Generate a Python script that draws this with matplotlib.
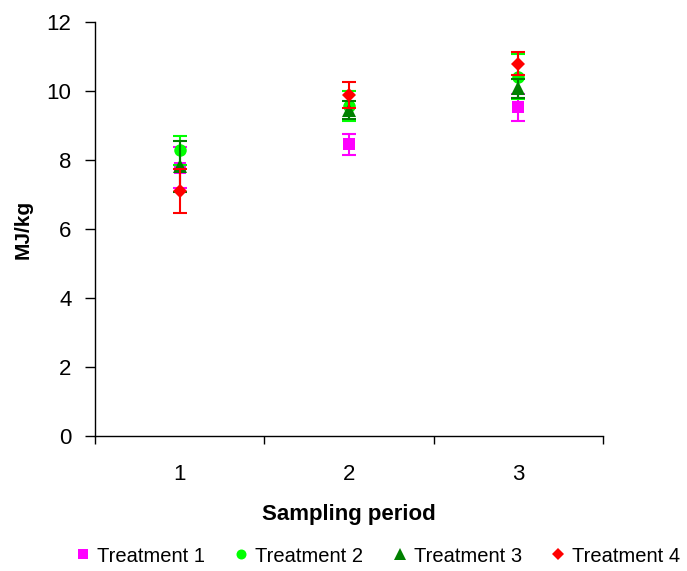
import numpy as np
import matplotlib.pyplot as plt

plt.rcParams['font.family'] = ['Liberation Sans', 'DejaVu Sans']

periods = [1, 2, 3]
treatments = ['Treatment 1', 'Treatment 2', 'Treatment 3', 'Treatment 4']
means = [
    [7.78, 8.45, 9.53],
    [8.28, 9.56, 10.42],
    [7.82, 9.45, 10.08],
    [7.10, 9.88, 10.79],
]
errors = [
    [0.60, 0.30, 0.39],
    [0.42, 0.43, 0.64],
    [0.74, 0.26, 0.27],
    [0.65, 0.38, 0.33],
]
colors = ['#FF00FF', '#00FF00', '#008000', '#FF0000']
markers = ['s', 'o', '^', 'D']
msizes = [8.5, 9, 10, 7.5]

fig = plt.figure(figsize=(6.87, 5.71), dpi=100)
ax = fig.add_axes([95 / 687, 135 / 571, 508 / 687, 414 / 571])

for i, name in enumerate(treatments):
    cont = ax.errorbar(periods, means[i], yerr=errors[i], fmt=markers[i], color=colors[i],
                       ecolor=colors[i], elinewidth=1.5, capsize=5, capthick=1.5,
                       markersize=msizes[i], label=name, zorder=2 + i)
    cont[0].set_markeredgewidth(0)

ax.set_xlim(0.5, 3.5)
ax.set_ylim(0, 12)
ax.set_yticks(np.arange(0, 13, 2))
ax.set_xticks([0.5, 1.5, 2.5, 3.5])
ax.set_xticklabels([])
ax.set_xticks(periods, minor=True)
ax.set_xticklabels([str(p) for p in periods], minor=True)
ax.tick_params(axis='x', which='minor', length=0, labelsize=16, pad=20)
ax.tick_params(axis='x', which='major', length=6, width=1, direction='out')
ax.tick_params(axis='y', length=7, width=1, direction='out', labelsize=16, pad=10)

for s in ['top', 'right']:
    ax.spines[s].set_visible(False)
for s in ['left', 'bottom']:
    ax.spines[s].set_linewidth(1)

ax.set_xlabel('Sampling period', fontsize=16, fontweight='bold', labelpad=14)
ax.set_ylabel('MJ/kg', fontsize=15, fontweight='bold', labelpad=10)

handles, labels = ax.get_legend_handles_labels()
handles = [h[0] for h in handles]
fig.legend(handles, labels, loc='center', bbox_to_anchor=(378 / 687, 1 - 556 / 571),
           ncol=4, frameon=False, fontsize=14.5, handlelength=0.7, handletextpad=0.35,
           columnspacing=1.45, markerscale=0.8, borderaxespad=0, borderpad=0)

fig.savefig('out.png', dpi=100)
